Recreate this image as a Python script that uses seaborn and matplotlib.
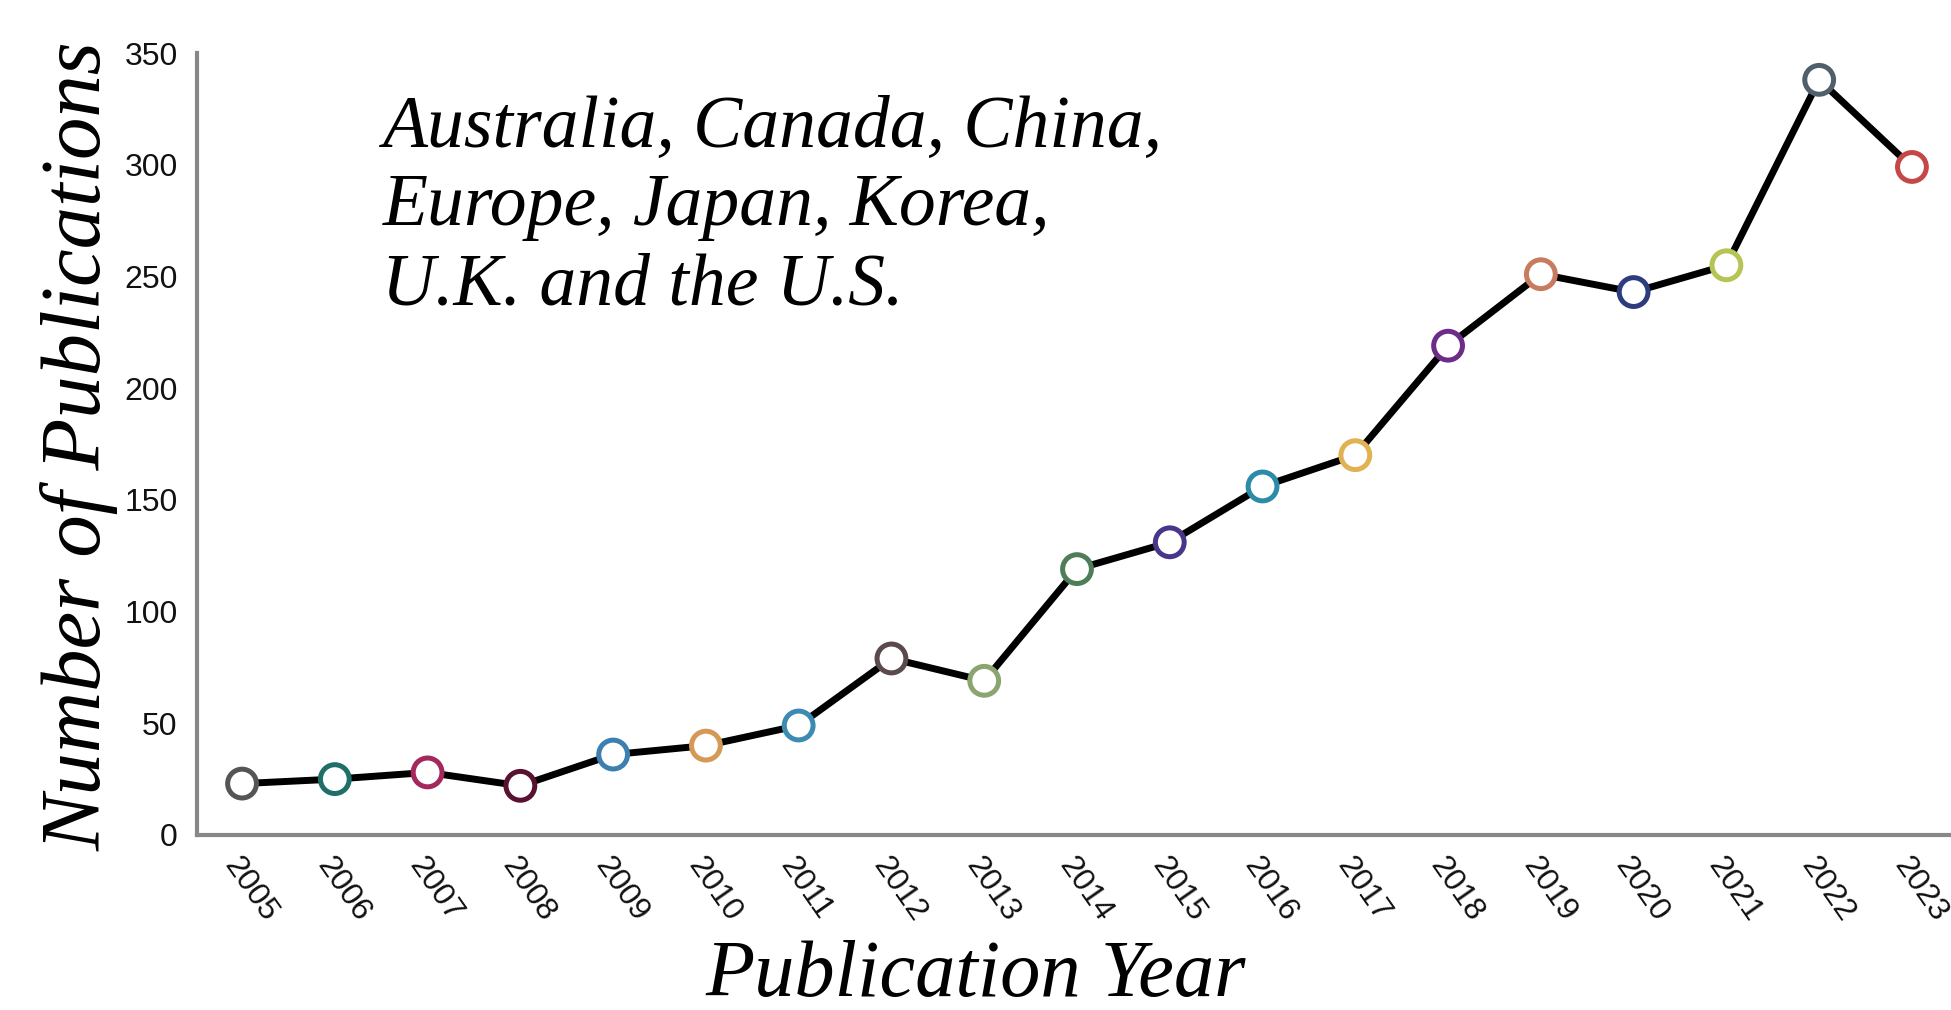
import pandas as pd
import seaborn as sns
import matplotlib.pyplot as plt

sns.set_theme(style='white')

years = list(range(2005, 2024))
counts = [23, 25, 28, 22, 36, 40, 49, 79, 69, 119, 131, 156, 170, 219, 251, 243, 255, 338, 299]
marker_colors = ['#555555', '#1f6e68', '#a3285c', '#5a1233', '#3c7fb0', '#d49a55', '#3b8bb3',
                 '#5a4a4c', '#8aa56f', '#4f7d57', '#4a3688', '#2c8ba8', '#e0b252', '#6c2c88',
                 '#c97b5f', '#2c3c7c', '#b5c455', '#4f5f6c', '#c44848']
note = 'Australia, Canada, China,\nEurope, Japan, Korea,\nU.K. and the U.S.'

df = pd.DataFrame({'year': years, 'count': counts})

fig = plt.figure(figsize=(19.51, 10.10), dpi=100)
ax = fig.add_axes([0.101, 0.1733, 0.898, 0.7742])

sns.lineplot(data=df, x='year', y='count', color='black', linewidth=5, ax=ax, zorder=2)
sns.scatterplot(data=df, x='year', y='count', hue='year', palette=marker_colors,
                legend=False, s=430, linewidth=3.6, ax=ax, zorder=3, clip_on=False)
pts = ax.collections[-1]
pts.set_edgecolors(pts.get_facecolors())
pts.set_facecolors('white')

ax.set_xlim(2004.515, 2023.4)
ax.set_ylim(0, 350)
ax.set_xticks(years)
ax.set_yticks(range(0, 351, 50))
ax.set_xlabel('')
ax.set_ylabel('')

sans = ['Liberation Sans Narrow', 'Liberation Sans', 'DejaVu Sans']
ax.tick_params(axis='y', length=8, width=2, color='#777777', pad=6, labelsize=23, labelcolor='#111111')
ax.tick_params(axis='x', length=0, pad=12, labelsize=23, labelcolor='#111111')
for lab in ax.get_xticklabels() + ax.get_yticklabels():
    lab.set_family(sans)
    lab.set_fontweight('medium')
for lab in ax.get_xticklabels():
    lab.set_rotation(-55)
    lab.set_ha('left')
    lab.set_va('top')
    lab.set_rotation_mode('anchor')

sns.despine(ax=ax)
for side in ['left', 'bottom']:
    ax.spines[side].set_color('#888888')
    ax.spines[side].set_linewidth(3)

serif = ['Liberation Serif', 'DejaVu Serif']
fig.text(0.041, 0.558, 'Number of Publications', rotation=90, ha='center', va='center',
         fontsize=61, family=serif, style='italic', color='black')
fig.text(0.5, 0.014, 'Publication Year', ha='center', va='baseline',
         fontsize=58, family=serif, style='italic', color='black')
fig.text(0.196, 0.906, note, ha='left', va='top', fontsize=53, family=serif,
         style='italic', linespacing=1.22, color='black')

plt.savefig('out.png', dpi=100)
